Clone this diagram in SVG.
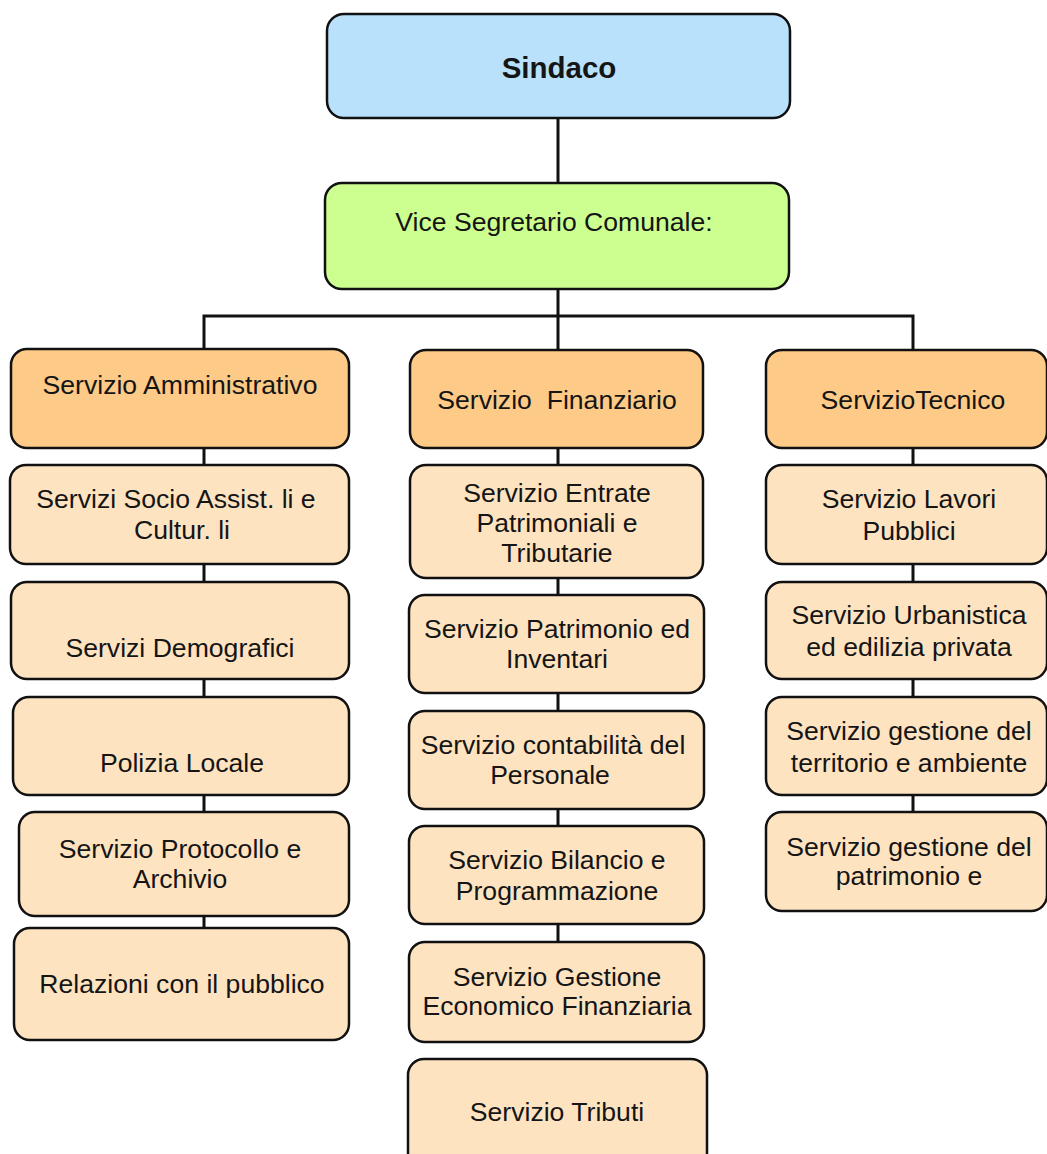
<svg xmlns="http://www.w3.org/2000/svg" width="1047" height="1154" viewBox="0 0 1047 1154">
<style>
.b{stroke:#111;stroke-width:2.5}
.top{fill:#b9e1fb}
.vice{fill:#ccff90}
.hd{fill:#fdcb87}
.sb{fill:#fee3c1}
.c{stroke:#111;stroke-width:3;fill:none}
text{font-family:"Liberation Sans",Arial,sans-serif;font-size:26.6px;fill:#151515;text-anchor:middle}
.bold{font-weight:bold;font-size:29.5px}
</style>
<rect width="1047" height="1154" fill="#fff"/>
<g id="connectors">
<path class="c" d="M558 118V942M204 328V928M913 328V812M204 331V316H913V331"/>
</g>
<g id="sindaco"><rect class="b top" x="327" y="14" width="463" height="104" rx="17"/><text class="bold" x="559" y="78">Sindaco</text></g>
<g id="vice"><rect class="b vice" x="325" y="183" width="464" height="106" rx="17"/><text x="554" y="231">Vice Segretario Comunale:</text></g>

<g id="amministrativo"><rect class="b hd" x="11" y="349" width="338" height="99" rx="16"/><text x="180" y="394">Servizio Amministrativo</text></g>
<g id="socio"><rect class="b sb" x="10" y="465" width="339" height="99" rx="16"/><text x="176" y="508">Servizi Socio Assist. li e</text><text x="182" y="539">Cultur. li</text></g>
<g id="demografici"><rect class="b sb" x="11" y="582" width="338" height="97" rx="16"/><text x="180" y="657">Servizi Demografici</text></g>
<g id="polizia"><rect class="b sb" x="13" y="697" width="336" height="98" rx="16"/><text x="182" y="772">Polizia Locale</text></g>
<g id="protocollo"><rect class="b sb" x="19" y="812" width="330" height="104" rx="16"/><text x="180" y="858">Servizio Protocollo e</text><text x="180" y="888">Archivio</text></g>
<g id="relazioni"><rect class="b sb" x="14" y="928" width="335" height="112" rx="16"/><text x="182" y="993">Relazioni con il pubblico</text></g>

<g id="finanziario"><rect class="b hd" x="410" y="350" width="293" height="98" rx="16"/><text x="557" y="409" xml:space="preserve">Servizio  Finanziario</text></g>
<g id="entrate"><rect class="b sb" x="410" y="465" width="293" height="113" rx="16"/><text x="557" y="502">Servizio Entrate</text><text x="557" y="532">Patrimoniali e</text><text x="557" y="562">Tributarie</text></g>
<g id="patrimonio"><rect class="b sb" x="409" y="595" width="295" height="98" rx="16"/><text x="557" y="638">Servizio Patrimonio ed</text><text x="557" y="668">Inventari</text></g>
<g id="contabilita"><rect class="b sb" x="409" y="711" width="295" height="98" rx="16"/><text x="553" y="754">Servizio contabilità del</text><text x="550" y="784">Personale</text></g>
<g id="bilancio"><rect class="b sb" x="409" y="826" width="295" height="98" rx="16"/><text x="557" y="869">Servizio Bilancio e</text><text x="557" y="900">Programmazione</text></g>
<g id="gestione"><rect class="b sb" x="409" y="942" width="295" height="100" rx="16"/><text x="557" y="986">Servizio Gestione</text><text x="557" y="1015">Economico Finanziaria</text></g>
<g id="tributi"><rect class="b sb" x="408" y="1059" width="299" height="110" rx="16"/><text x="557" y="1121">Servizio Tributi</text></g>

<g id="tecnico"><rect class="b hd" x="766" y="350" width="281" height="98" rx="16"/><text x="913" y="409">ServizioTecnico</text></g>
<g id="lavori"><rect class="b sb" x="766" y="465" width="281" height="99" rx="16"/><text x="909" y="508">Servizio Lavori</text><text x="909" y="540">Pubblici</text></g>
<g id="urbanistica"><rect class="b sb" x="766" y="582" width="281" height="97" rx="16"/><text x="909" y="624">Servizio Urbanistica</text><text x="909" y="656">ed edilizia privata</text></g>
<g id="territorio"><rect class="b sb" x="766" y="697" width="281" height="98" rx="16"/><text x="909" y="740">Servizio gestione del</text><text x="909" y="772">territorio e ambiente</text></g>
<g id="gestpatrimonio"><rect class="b sb" x="766" y="812" width="281" height="99" rx="16"/><text x="909" y="856">Servizio gestione del</text><text x="909" y="885">patrimonio e</text></g>
</svg>
